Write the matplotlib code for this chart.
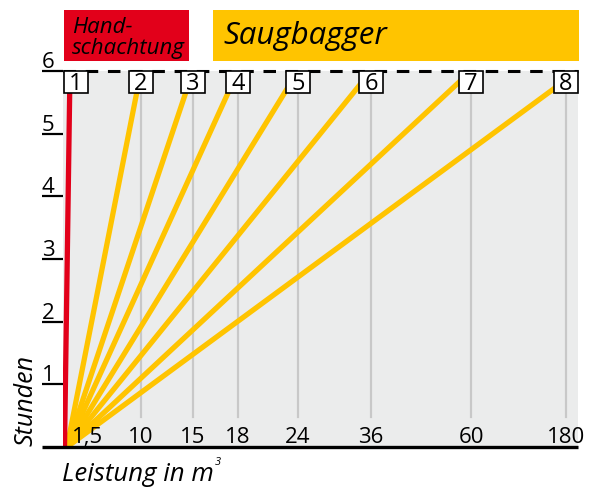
import matplotlib
matplotlib.use("Agg")
import matplotlib.pyplot as plt
from matplotlib.patches import Rectangle

plt.rcParams['font.family'] = ['Open Sans', 'DejaVu Sans']
plt.rcParams['lines.scale_dashes'] = False

# data
leistung = ["1,5", "10", "15", "18", "24", "36", "60", "180"]
nummer = ["1", "2", "3", "4", "5", "6", "7", "8"]
stunden_ticks = [1, 2, 3, 4, 5, 6]
stunden_max = 6
# uneven slot positions of the categories along the x axis
slot = [13, 78, 130, 175, 235, 308, 408, 503]
line_end = [7, 78, 130, 175, 235, 308, 408, 515]

RED = "#E2001A"
YELLOW = "#FFC400"
BG = "#EBECEC"
GRID = "#C8C8C8"

fig = plt.figure(figsize=(5.89, 4.89), dpi=100)
W, H = 589, 489
ax = fig.add_axes([63 / W, (H - 448) / H, 515 / W, 376 / H])
ax.set_xlim(0, 515)
ax.set_ylim(0, stunden_max)
ax.set_facecolor(BG)
for s in ax.spines.values():
    s.set_visible(False)
ax.set_xticks([])
ax.set_yticks([])

hpx = 376 / stunden_max  # pixels per hour
box_w = 24
box_bot = stunden_max - 22 / hpx

# gray verticals
for x in slot[1:]:
    ax.plot([x, x], [30 / hpx, box_bot], color=GRID, lw=1.6, zorder=1)

# lines from origin
for i, x in enumerate(line_end):
    if i == 0:
        ax.plot([1.5, x], [0, stunden_max], color=RED, lw=3.8, zorder=3,
                solid_capstyle='butt')
    else:
        ax.plot([4, x], [0, stunden_max], color=YELLOW, lw=3.8, zorder=2,
                solid_capstyle='butt')

# dashed top line and solid bottom axis
ax.plot([0, 515], [stunden_max, stunden_max], color="black", lw=2.2,
        dashes=(9, 7), zorder=4, clip_on=False)
ax.plot([-21, 515], [0, 0], color="black", lw=2.4, zorder=4, clip_on=False,
        solid_capstyle='butt')

# y ticks
for h in stunden_ticks:
    ax.plot([-21, 0], [h, h], color="black", lw=1.6, clip_on=False,
            solid_capstyle='butt')
    ax.text(-21, h + 4 / hpx, str(h), ha='left', va='baseline',
            fontsize=16, clip_on=False)

# number boxes
for x, n in zip(slot, nummer):
    ax.add_patch(Rectangle((x - box_w / 2, box_bot), box_w, 22 / hpx,
                           facecolor="white", edgecolor="black", lw=1.2,
                           zorder=5, clip_on=False))
    ax.text(x, box_bot + 10.5 / hpx, n, ha='center', va='center',
            fontsize=17, zorder=6)

# x tick labels
for i, (x, lab) in enumerate(zip(slot, leistung)):
    xx = x + 12 if i == 0 else x
    ax.text(xx, 5 / hpx, lab, ha='center', va='baseline', fontsize=16,
            zorder=6)

# header boxes
fig.patches.append(Rectangle((64 / W, (H - 62) / H), 125 / W, 51 / H,
                             transform=fig.transFigure, facecolor=RED,
                             edgecolor='none'))
fig.patches.append(Rectangle((213 / W, (H - 62) / H), 366 / W, 51 / H,
                             transform=fig.transFigure, facecolor=YELLOW,
                             edgecolor='none'))
fig.text(72 / W, (H - 33) / H, "Hand-", fontsize=16, style='italic',
         va='baseline')
fig.text(72 / W, (H - 54) / H, "schachtung", fontsize=16, style='italic',
         va='baseline')
fig.text(223 / W, (H - 44) / H, "Saugbagger", fontsize=22.5, style='italic',
         va='baseline')

# axis titles
fig.text(33 / W, (H - 446) / H, "Stunden", fontsize=18, style='italic',
         rotation=90, ha='left', va='baseline', rotation_mode='anchor')
xl = fig.text(62 / W, (H - 481) / H, "Leistung in m", fontsize=18.5,
              style='italic', va='baseline')
fig.canvas.draw()
bb = xl.get_window_extent()
fig.text((bb.x1 + 1) / W, (H - 465) / H, "3", fontsize=8,
         style='italic', va='baseline')

fig.savefig("out.png", dpi=100)
